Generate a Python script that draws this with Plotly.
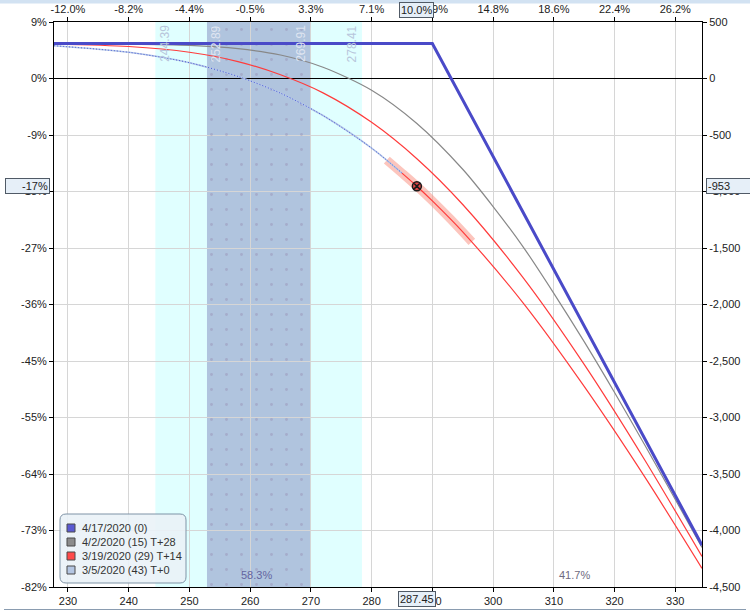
import plotly.graph_objects as go

# ---------------- data ----------------
x_ticks = [230, 240, 250, 260, 270, 280, 290, 300, 310, 320, 330]
top_tick_text = ["-12.0%", "-8.2%", "-4.4%", "-0.5%", "3.3%", "7.1%", "10.9%", "14.8%", "18.6%", "22.4%", "26.2%"]
y_ticks = [500, 0, -500, -1000, -1500, -2000, -2500, -3000, -3500, -4000, -4500]
left_tick_text = ["9%", "0%", "-9%", "-18%", "-27%", "-36%", "-45%", "-55%", "-64%", "-73%", "-82%"]
right_tick_text = ["500", "0", "-500", "-1,000", "-1,500", "-2,000", "-2,500", "-3,000", "-3,500", "-4,000", "-4,500"]

# expiration 4/17/2020
exp_x = [227.7, 290.0, 334.4]
exp_y = [310, 310, -4130]

# 4/2/2020 T+28
t28_x = [227.7, 240, 250, 258, 265, 272, 280, 287.45, 295, 300, 305, 310, 315, 320, 325, 330, 334.4]
t28_y = [307, 304, 293, 264, 208, 100, -104, -398, -803, -1133, -1494, -1901, -2329, -2779, -3245, -3725, -4150]

# 3/19/2020 T+14
t14_x = [227.7, 240, 250, 258, 265, 272, 280, 287.45, 295, 305, 315, 325, 334.4]
t14_y = [303, 283, 232, 150, 33, -127, -388, -710, -1115, -1766, -2530, -3378, -4230]

# 3/5/2020 T+0 (left part blue dotted, right part red)
t0a_x = [227.7, 240, 250, 258, 265, 272, 280, 285]
t0a_y = [290, 232, 140, 18, -130, -328, -616, -837]
t0b_x = [285, 287.45, 290, 295, 305, 315, 325, 334.4]
t0b_y = [-837, -953, -1083, -1357, -1990, -2725, -3528, -4335]

# highlighted range around current price
hl_x = [282.5, 285, 287.45, 290, 293, 296.5]
hl_y = [-722, -837, -953, -1083, -1245, -1446]

cur_price = 287.45
cur_pl = -953

band_outer = [244.39, 278.41]
band_inner = [252.89, 269.91]
prob_left = "58.3%"
prob_right = "41.7%"

legend_names = ["4/17/2020 (0)", "4/2/2020 (15) T+28", "3/19/2020 (29) T+14", "3/5/2020 (43) T+0"]
legend_colors = ["#5a5ad2", "#8c8c8c", "#ff4a4a", "#b4c6e2"]

# ---------------- figure ----------------
XR = [227.7, 334.4]
YR = [-4500, 500]
FONT = "Liberation Sans, Arial, sans-serif"
W, H = 750, 611
ML, MR, MT, MB = 54, 48, 22, 24
PW, PH = W - ML - MR, H - MT - MB


def px(xp):
    return (xp - ML) / PW


def py(yp):
    return (H - MB - yp) / PH


fig = go.Figure()

# dotted pattern on inner band (above grid)
fig.add_trace(go.Scatter(
    x=[band_inner[0], band_inner[1], band_inner[1], band_inner[0], band_inner[0]],
    y=[YR[0], YR[0], YR[1], YR[1], YR[0]],
    mode="none", fill="toself", fillcolor="rgba(0,0,0,0)",
    fillpattern=dict(shape=".", fgcolor="#9a94b8", bgcolor="rgba(0,0,0,0)", size=15, solidity=0.03),
    showlegend=False, hoverinfo="skip"))

# highlight band
fig.add_trace(go.Scatter(x=hl_x, y=hl_y, mode="lines", line=dict(color="rgba(250,150,135,0.55)", width=9, shape="spline"),
                         showlegend=False, hoverinfo="skip"))

# T+0 left part: light blue + fine dots
fig.add_trace(go.Scatter(x=t0a_x, y=t0a_y, mode="lines", line=dict(color="#b4c6e8", width=1.6, shape="spline", smoothing=0.8),
                         showlegend=False, hoverinfo="skip"))
fig.add_trace(go.Scatter(x=t0a_x, y=t0a_y, mode="lines",
                         line=dict(color="#4656d2", width=1, dash="1px,2px", shape="spline", smoothing=0.8),
                         showlegend=False, hoverinfo="skip"))
# T+0 right part red
fig.add_trace(go.Scatter(x=t0b_x, y=t0b_y, mode="lines", line=dict(color="#ff3b3b", width=1.2, shape="spline", smoothing=0.8),
                         showlegend=False, hoverinfo="skip"))
# T+14
fig.add_trace(go.Scatter(x=t14_x, y=t14_y, mode="lines", line=dict(color="#ff3b3b", width=1.2, shape="spline", smoothing=0.8),
                         showlegend=False, hoverinfo="skip"))
# T+28
fig.add_trace(go.Scatter(x=t28_x, y=t28_y, mode="lines", line=dict(color="#888888", width=1.2, shape="spline", smoothing=0.8),
                         showlegend=False, hoverinfo="skip"))
# expiration
fig.add_trace(go.Scatter(x=exp_x, y=exp_y, mode="lines", line=dict(color="#4a4ac8", width=3),
                         showlegend=False, hoverinfo="skip"))
# current marker
fig.add_trace(go.Scatter(x=[cur_price], y=[cur_pl], mode="markers",
                         marker=dict(symbol="circle-x", size=9, color="#e24848", line=dict(color="#1a1a1a", width=1.5)),
                         showlegend=False, hoverinfo="skip"))

# invisible trace for secondary axes
fig.add_trace(go.Scatter(x=XR, y=YR, xaxis="x2", yaxis="y2", mode="markers", marker=dict(opacity=0),
                         showlegend=False, hoverinfo="skip"))

shapes = [
    dict(type="rect", xref="x", yref="paper", x0=band_outer[0], x1=band_outer[1], y0=0, y1=1,
         fillcolor="#e0ffff", line=dict(width=0), layer="below"),
    dict(type="rect", xref="x", yref="paper", x0=band_inner[0], x1=band_inner[1], y0=0, y1=1,
         fillcolor="#b0c4de", line=dict(width=0), layer="below"),
    dict(type="rect", xref="paper", yref="paper", x0=px(0), x1=px(W), y0=py(3.5), y1=py(0),
         fillcolor="#d2e2f2", line=dict(width=0)),
    dict(type="line", xref="paper", yref="paper", x0=px(4), x1=px(W - 4), y0=py(609.5), y1=py(609.5),
         line=dict(color="#8a9cb0", width=1)),
]

# custom legend (rounded box, square swatches)
lx0, lx1, ly0, ly1, r = 60, 186, 514, 583, 6
path = (f"M {px(lx0 + r)},{py(ly0)} L {px(lx1 - r)},{py(ly0)} Q {px(lx1)},{py(ly0)} {px(lx1)},{py(ly0 + r)} "
        f"L {px(lx1)},{py(ly1 - r)} Q {px(lx1)},{py(ly1)} {px(lx1 - r)},{py(ly1)} "
        f"L {px(lx0 + r)},{py(ly1)} Q {px(lx0)},{py(ly1)} {px(lx0)},{py(ly1 - r)} "
        f"L {px(lx0)},{py(ly0 + r)} Q {px(lx0)},{py(ly0)} {px(lx0 + r)},{py(ly0)} Z")
shapes.append(dict(type="path", xref="paper", yref="paper", path=path,
                   fillcolor="rgba(234,242,247,0.9)", line=dict(color="#7e93a6", width=1)))

annotations = []
item_y = [528, 542, 556, 570]
for name, col, iy in zip(legend_names, legend_colors, item_y):
    shapes.append(dict(type="rect", xref="paper", yref="paper", x0=px(67), x1=px(75), y0=py(iy + 4), y1=py(iy - 4),
                       fillcolor=col, line=dict(color="#4a4a4a", width=1)))
    annotations.append(dict(x=px(80), xref="paper", y=py(iy), yref="paper", xanchor="left", yanchor="middle",
                            text=name, showarrow=False, font=dict(family=FONT, size=11, color="#333333")))

for v in band_outer + band_inner:
    inner = v in band_inner
    if v in (band_outer[0], band_inner[0]):
        xa, xs = "left", 0
    else:
        xa, xs = "right", -1
    annotations.append(dict(x=v, xref="x", y=1, yref="paper", text=f"{v:.2f}", textangle=-90,
                            xanchor=xa, yanchor="top", xshift=xs, yshift=-1, showarrow=False,
                            font=dict(family=FONT, size=12, color="#dfe5f1" if inner else "#b8c6dc")))
annotations.append(dict(x=261.0, xref="x", y=0, yref="paper", yanchor="bottom", yshift=4, text=prob_left,
                        showarrow=False, font=dict(family=FONT, size=11, color="#6464a0")))
annotations.append(dict(x=313.4, xref="x", y=0, yref="paper", yanchor="bottom", yshift=4, text=prob_right,
                        showarrow=False, font=dict(family=FONT, size=11, color="#6e6a80")))

box = dict(bgcolor="#e6eff8", bordercolor="#505a66", borderwidth=1, borderpad=1, showarrow=False,
           font=dict(family=FONT, size=11, color="#222222"))
annotations.append(dict(x=0, xref="paper", y=cur_pl, yref="y", xanchor="right", xshift=-4,
                        text="-17%", width=41, align="right", **box))
annotations.append(dict(x=1, xref="paper", y=cur_pl, yref="y", xanchor="left", xshift=4,
                        text="-953", width=44, align="left", **box))
annotations.append(dict(x=cur_price, xref="x", y=1, yref="paper", yanchor="bottom", yshift=4,
                        text="10.0%", **box))
annotations.append(dict(x=cur_price, xref="x", y=0, yref="paper", yanchor="top", yshift=-4,
                        text="287.45", **box))

axis_common = dict(showline=True, linecolor="black", linewidth=1, ticks="outside", ticklen=4,
                   tickcolor="black", automargin=False, tickfont=dict(family=FONT, size=11, color="#222222"))

fig.update_layout(
    width=W, height=H,
    margin=dict(l=ML, r=MR, t=MT, b=MB),
    paper_bgcolor="white", plot_bgcolor="white",
    font=dict(family=FONT, size=11, color="#222222"),
    xaxis=dict(range=XR, tickvals=x_ticks, ticktext=[str(v) for v in x_ticks], showgrid=True,
               gridcolor="#d6d6d6", zeroline=False, **axis_common),
    xaxis2=dict(range=XR, overlaying="x", side="top", tickvals=x_ticks, ticktext=top_tick_text,
                showgrid=False, zeroline=False, **axis_common),
    yaxis=dict(range=YR, tickvals=y_ticks, ticktext=left_tick_text, showgrid=True, gridcolor="#d6d6d6",
               zeroline=True, zerolinecolor="black", zerolinewidth=1, **axis_common),
    yaxis2=dict(range=YR, overlaying="y", side="right", tickvals=y_ticks, ticktext=right_tick_text,
                showgrid=False, zeroline=False, **axis_common),
    shapes=shapes, annotations=annotations,
    showlegend=False,
)

fig.write_html("out.html", config={"displayModeBar": False},
               post_script="document.body.style.margin='0px';document.body.style.overflow='hidden';")
